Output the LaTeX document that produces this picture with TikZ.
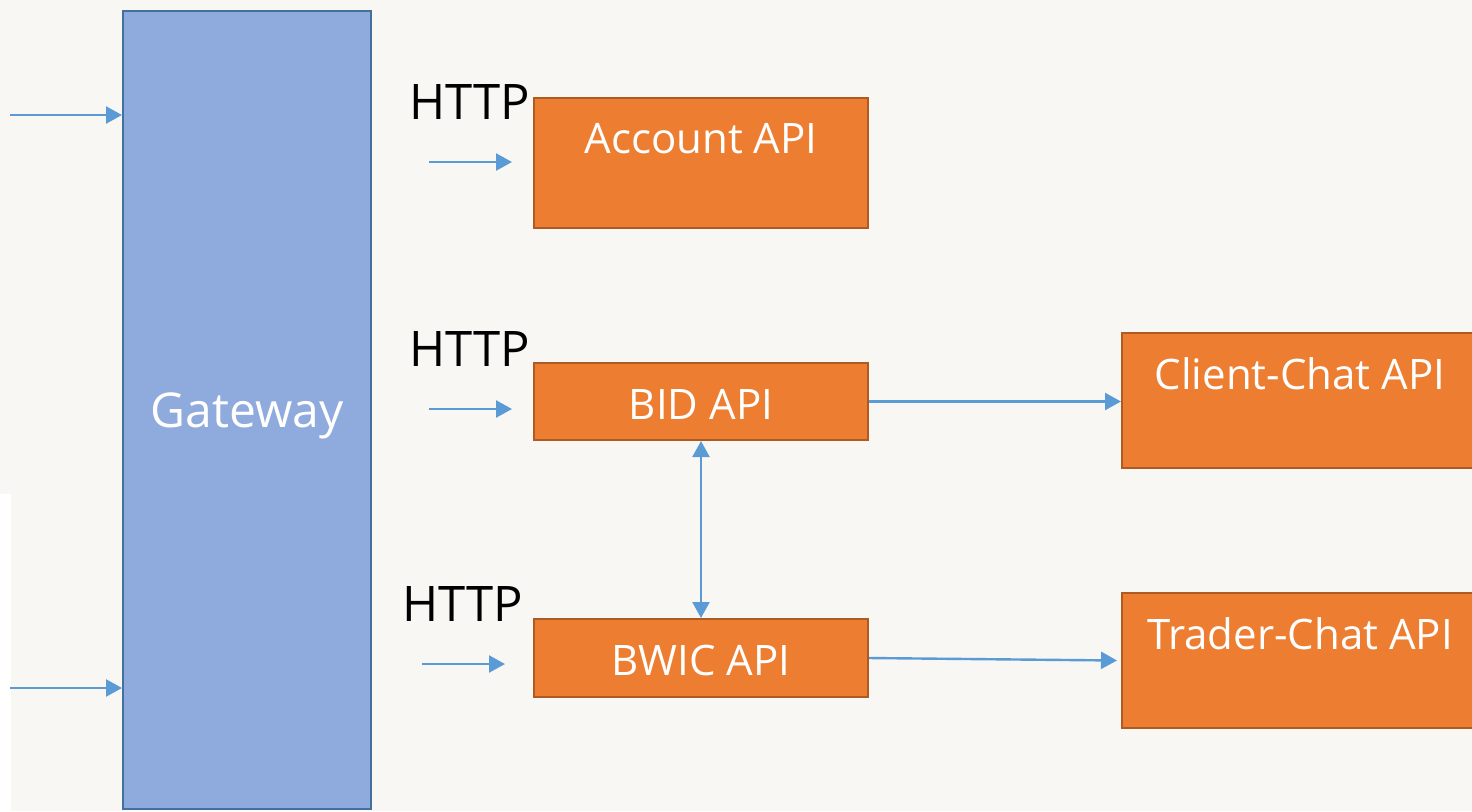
\documentclass[tikz,border=0pt]{standalone}
\usepackage{fontspec}
\setmainfont{Open Sans}
\usetikzlibrary{arrows.meta}
\definecolor{bgpaper}{HTML}{F8F7F4}
\definecolor{gatefill}{HTML}{8FAADC}
\definecolor{gateline}{HTML}{41719C}
\definecolor{apifill}{HTML}{ED7D31}
\definecolor{apiline}{HTML}{AE5A21}
\definecolor{flow}{HTML}{5B9BD5}
\begin{document}
\begin{tikzpicture}[x=0.5pt,y=-0.5pt,
  gatebox/.style={draw=gateline,fill=gatefill,line width=1pt,text=white,
    font=\fontsize{24}{28}\selectfont,minimum width=124pt,minimum height=399pt},
  apibox/.style={draw=apiline,fill=apifill,line width=1pt,text=white,
    font=\fontsize{21}{25}\selectfont,minimum width=167pt},
  apilabel/.style={anchor=center,yshift=-21pt,text=white,font=\fontsize{21}{25}\selectfont},
  httplabel/.style={font=\fontsize{24.5}{28}\selectfont},
  flowarrow/.style={draw=flow,line width=1.2pt,-{Triangle[length=8pt,width=8.5pt]}},
  botharrow/.style={draw=flow,line width=1.2pt,{Triangle[length=8pt,width=8.5pt]}-{Triangle[length=8pt,width=8.5pt]}}]
  \useasboundingbox[fill=bgpaper] (0,0) rectangle (1472,811);
  \fill[white] (0,494) rectangle (11,811);
  % gateway
  \node[gatebox] (gw) at (247,410) {};
  \node[text=white,font=\fontsize{24}{28}\selectfont] (gwtext) at (247,416) {Gateway};
  \coordinate (in1) at (10,115);
  \coordinate (in2) at (10,688);
  \draw[flowarrow] (in1) -- (gw.west |- in1);
  \draw[flowarrow] (in2) -- (gw.west |- in2);
  % apis
  \node[apibox,minimum height=65pt,label={[apilabel]north:Account API}] (acc) at (701,163) {};
  \node[apibox,minimum height=38.5pt] (bid) at (701,401.5) {};
  \node[text=white,font=\fontsize{21}{25}\selectfont] (bidtext) at (701,404) {BID API};
  \node[apibox,minimum height=39pt] (bwic) at (701,658) {};
  \node[text=white,font=\fontsize{21}{25}\selectfont] (bwictext) at (701,660) {BWIC API};
  \node[apibox,minimum width=178pt,minimum height=67.5pt,label={[apilabel]north:Client-Chat API}] (client) at (1300,400.5) {};
  \node[apibox,minimum width=178pt,minimum height=67.5pt,label={[apilabel]north:Trader-Chat API}] (trader) at (1300,660.5) {};
  % http
  \node[httplabel] (http1) at (470,102) {HTTP};
  \node[httplabel] (http2) at (470,349) {HTTP};
  \node[httplabel] (http3) at (463,604) {HTTP};
  \coordinate (h1s) at (429,162); \coordinate (h1e) at (512,162);
  \coordinate (h2s) at (429,409); \coordinate (h2e) at (512,409);
  \coordinate (h3s) at (422,664); \coordinate (h3e) at (505,664);
  \draw[flowarrow] (h1s) -- (h1e);
  \draw[flowarrow] (h2s) -- (h2e);
  \draw[flowarrow] (h3s) -- (h3e);
  % links
  \draw[flowarrow] (bid.east) -- (client.west |- bid.east);
  \draw[flowarrow] (bwic.east) -- ([xshift=-2pt]trader.west);
  \draw[botharrow] (bid.south) -- (bwic.north);
\end{tikzpicture}
\end{document}
